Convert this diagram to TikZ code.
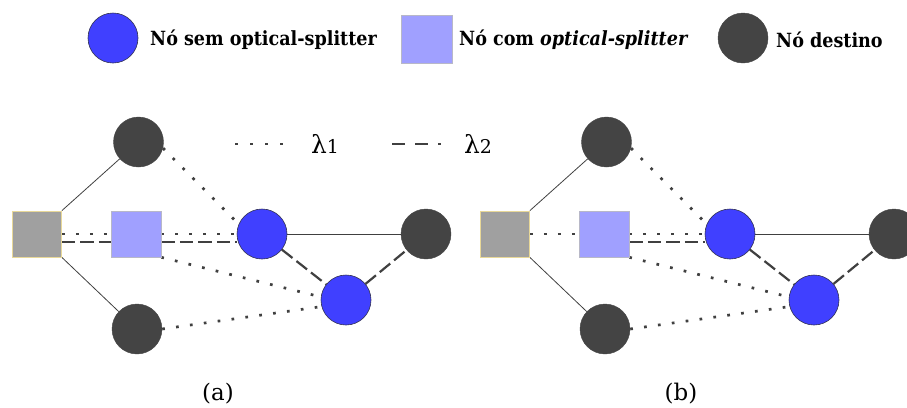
\documentclass[tikz,border=0pt]{standalone}
\usepackage{fontspec}
\setmainfont{DejaVu Serif}
\newfontfamily\legfont{DejaVu Serif Condensed}
\definecolor{nodeblue}{HTML}{4040FF}
\definecolor{lightblue}{HTML}{A0A0FF}
\definecolor{dkgray}{HTML}{444444}
\definecolor{srcgray}{HTML}{A0A0A0}
\definecolor{srcborder}{HTML}{E8D898}
\definecolor{sqborder}{HTML}{B8B8C8}
\definecolor{linegray}{HTML}{404040}
\definecolor{ringblue}{HTML}{303050}
\pgfdeclarelayer{edges}
\pgfsetlayers{edges,main}

% one optical network: source, splitter node, two plain nodes, three destinations
\newcommand{\opticnet}{%
  \node[source]   (gs) at (37,234) {};
  \node[splitter] (ls) at (136,234) {};
  \node[dest]     (t1) at (138.5,142) {};
  \node[dest]     (bo) at (137,329) {};
  \node[plain]    (b1) at (262,234) {};
  \node[plain]    (b2) at (346,300) {};
  \node[dest]     (r)  at (426,234) {};
  \begin{pgfonlayer}{edges}
    \draw[fiber] (gs.north east) -- (t1);
    \draw[fiber] (gs.south east) -- (bo);
    \draw[fiber] (b1) -- (r);
    \draw[lamone] (gs.east) -- (ls.west);
    \draw[lamone] (ls.east) -- (b1.west);
    \draw[lamone] (t1.-14) -- (b1.157);
    \draw[lamone] (ls.south east) -- (b2.173);
    \draw[lamone] (bo.0) -- (b2.195);
    \draw[lamtwo] ([yshift=-8bp]ls.east) -- ([yshift=-8bp]b1.west);
    \draw[lamtwo] (b1) -- (b2);
    \draw[lamtwo] (b2) -- (r);
  \end{pgfonlayer}}

\begin{document}
\begin{tikzpicture}[x=1bp,y=-1bp,
  dest/.style={circle,fill=dkgray,draw=dkgray,line width=0.4bp,minimum size=50bp,inner sep=0pt},
  plain/.style={circle,fill=nodeblue,draw=ringblue,line width=0.6bp,minimum size=50bp,inner sep=0pt},
  splitter/.style={rectangle,fill=lightblue,draw=sqborder,line width=0.6bp,minimum width=50bp,minimum height=46bp,inner sep=0pt},
  source/.style={rectangle,fill=srcgray,draw=srcborder,line width=0.8bp,minimum width=49bp,minimum height=46bp,inner sep=0pt},
  fiber/.style={draw=linegray,line width=0.8bp},
  lamone/.style={draw=linegray,line width=2.7bp,dash pattern=on 2.7bp off 11.3bp},
  lamtwo/.style={draw=linegray,line width=2.2bp,dash pattern=on 13.5bp off 5bp},
  legtext/.style={anchor=west,inner sep=0pt,font=\legfont\bfseries\fontsize{19.6}{23}\selectfont},
  caption/.style={inner sep=0pt,font=\fontsize{23}{27}\selectfont}]
  \useasboundingbox (0,0) rectangle (907,407);
  \clip (0,0) rectangle (907,407);

  % legend
  \node[plain] (lg1) at (113,38) {};
  \node[legtext] (lt1) at (150,40) {Nó sem optical-splitter};
  \node[splitter,minimum width=51bp,minimum height=48bp] (lg2) at (426.5,39) {};
  \node[legtext] (lt2) at (459,40) {Nó com \textit{optical-splitter}};
  \node[dest] (lg3) at (743,38) {};
  \node[legtext] (lt3) at (776,40) {Nó destino};

  % wavelength key
  \coordinate (k1s) at (235,144);
  \coordinate (k1e) at (283,144);
  \draw[lamone,dash pattern=on 2.7bp off 12.3bp] (k1s) -- (k1e);
  \node[anchor=base west,inner sep=0pt] (lam1) at (311,153)
    {{\fontsize{25}{28}\selectfont λ}{\fontsize{19}{22}\selectfont 1}};
  \coordinate (k2s) at (392,144);
  \coordinate (k2e) at (441,144);
  \draw[lamtwo,dash pattern=on 13bp off 10bp] (k2s) -- (k2e);
  \node[anchor=base west,inner sep=0pt] (lam2) at (464,153)
    {{\fontsize{25}{28}\selectfont λ}{\fontsize{19}{22}\selectfont 2}};

  % network (a)
  \begin{scope}[name prefix=a-]
    \opticnet
    \begin{pgfonlayer}{edges}
      \draw[lamtwo] ([yshift=-8bp]gs.east) -- ([yshift=-8bp]ls.west);
    \end{pgfonlayer}
  \end{scope}

  % network (b)
  \begin{scope}[name prefix=b-,shift={(468,0)}]
    \opticnet
  \end{scope}

  \node[caption] (capa) at (218,394) {(a)};
  \node[caption] (capb) at (681,394) {(b)};
\end{tikzpicture}
\end{document}
